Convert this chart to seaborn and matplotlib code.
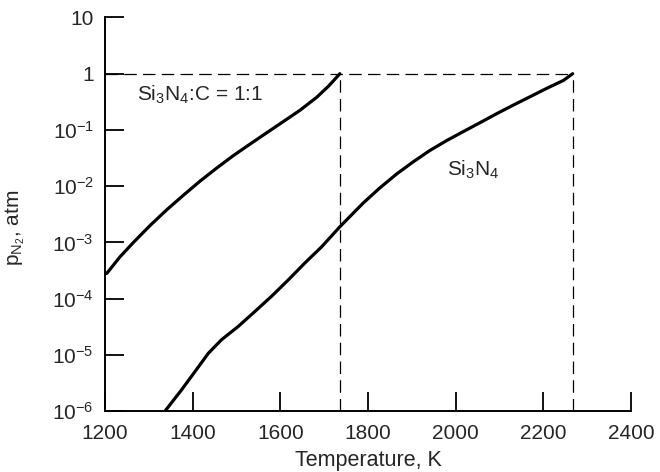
import numpy as np
import pandas as pd
import matplotlib
matplotlib.use("Agg")
import matplotlib.pyplot as plt
import seaborn as sns

# values (temperature K, pressure atm)
temp_sic = [1204, 1234, 1265, 1303, 1341, 1379, 1417, 1455, 1493, 1531,
            1569, 1607, 1645, 1683, 1710, 1736]
p_sic = [2.8e-4, 5.5e-4, 1.0e-3, 2.0e-3, 3.8e-3, 6.9e-3, 1.23e-2, 2.1e-2, 3.5e-2, 5.6e-2,
         8.9e-2, 0.141, 0.224, 0.38, 0.60, 1.0]

temp_si = [1337, 1375, 1405, 1436, 1466, 1504, 1542, 1580, 1618, 1656, 1694, 1736,
           1789, 1827, 1866, 1903, 1941, 1980, 2017, 2056, 2094, 2131, 2170, 2208,
           2246, 2267]
p_si = [1.0e-6, 2.4e-6, 5.0e-6, 1.07e-5, 1.86e-5, 3.2e-5, 5.9e-5, 1.10e-4, 2.14e-4,
        4.3e-4, 8.3e-4, 1.9e-3, 5.0e-3, 9.3e-3, 1.66e-2, 2.7e-2, 4.3e-2, 6.5e-2,
        9.3e-2, 0.135, 0.195, 0.275, 0.39, 0.55, 0.76, 1.0]

t_ends = [1736, 2267]   # where each curve reaches 1 atm
x_ticks = [1200, 1400, 1600, 1800, 2000, 2200, 2400]
y_ticks = [1e-6, 1e-5, 1e-4, 1e-3, 1e-2, 1e-1, 1, 10]
y_labels = [r"10$^{-6}$", r"10$^{-5}$", r"10$^{-4}$", r"10$^{-3}$",
            r"10$^{-2}$", r"10$^{-1}$", "1", "10"]

sns.set_style("ticks")
plt.rcParams["font.family"] = ["Liberation Sans", "DejaVu Sans"]
plt.rcParams["mathtext.default"] = "regular"

df = pd.concat([
    pd.DataFrame({"T": temp_sic, "p": p_sic, "mix": "Si3N4:C"}),
    pd.DataFrame({"T": temp_si, "p": p_si, "mix": "Si3N4"}),
])

fig = plt.figure(figsize=(6.6, 4.72), dpi=100)
ax = fig.add_axes([0.159, 0.129, 0.797, 0.834])

for name, grp in df.groupby("mix"):
    sns.lineplot(data=grp, x="T", y="p", ax=ax, color="black", lw=2.3,
                 sort=False, estimator=None, legend=False)

# dashed guide lines at 1 atm
dash = dict(color="black", lw=0.9, dashes=(10, 5))
ax.plot([1200, t_ends[1]], [1, 1], **dash)
for t in t_ends:
    ax.plot([t, t], [1e-6, 1], **dash)

ax.set_yscale("log")
ax.set_xlim(1200, 2400)
ax.set_ylim(1e-6, 10)
ax.set_xticks(x_ticks)
ax.set_yticks(y_ticks)
ax.set_yticklabels(y_labels)
ax.minorticks_off()
ax.tick_params(direction="in", length=14, width=1.3, labelsize=15, color="black")
ax.tick_params(axis="x", pad=9)
ax.tick_params(axis="y", pad=8)

sns.despine(ax=ax)
for s in ["left", "bottom"]:
    ax.spines[s].set_linewidth(1.4)
    ax.spines[s].set_color("black")

ax.set_xlabel("Temperature, K", fontsize=15.5, labelpad=5)
ax.set_ylabel(r"p$_{N_2}$, atm", fontsize=15)
ax.yaxis.set_label_coords(-0.148, 0.465)

ax.text(1273, 10**-0.38, r"Si$_3$N$_4$:C = 1:1", fontsize=15, va="center", ha="left")
ax.text(1980, 10**-1.71, r"Si$_3$N$_4$", fontsize=15, va="center", ha="left")

fig.savefig("out.png", dpi=100)
